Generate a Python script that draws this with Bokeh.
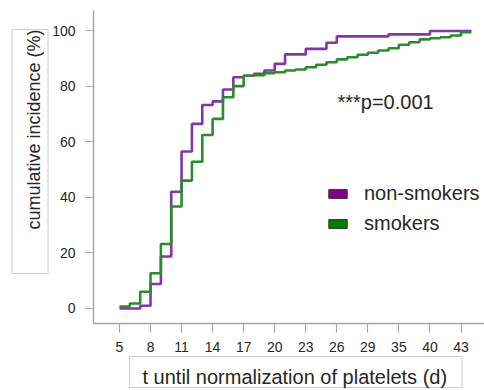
from bokeh.plotting import figure
from bokeh.models import Range1d, Label, Legend, LegendItem, FixedTicker, ColumnDataSource, Title
from bokeh.embed import file_html
from bokeh.resources import INLINE

# ---- data ----
days = list(range(5, 30)) + [30, 32, 35, 36, 38, 40, 41, 42, 43]
non_smokers = [0, 0, 1, 8.8, 18.7, 42, 56.5, 66.4, 73.2, 74.5, 78.8, 83.2, 83.7, 84.4,
               85.6, 88, 91.4, 91.4, 93.4, 93.4, 95.6, 97.9, 97.9, 97.9, 97.9,
               97.9, 98.6, 98.6, 98.6, 98.6, 99.8, 99.8, 99.8, 99.8]
smokers = [0.7, 1.8, 6, 12.7, 23.2, 36.7, 46, 52.8, 62.4, 68.2, 76, 80, 83.7, 83.9,
           84.6, 85, 85.6, 86.0, 86.8, 87.7, 88.6, 89.6, 90.4, 91.3, 92,
           92.8, 93.6, 94.9, 95.8, 96.8, 97.2, 97.6, 98.2, 99.4]
tick_days = [5, 8, 11, 14, 17, 20, 23, 26, 29, 35, 40, 43]
y_ticks = [0, 20, 40, 60, 80, 100]
series_names = ["non-smokers", "smokers"]
p_text = "***p=0.001"
x_title = "t until normalization of platelets (d)"
y_title = "cumulative incidence (%)"

PURPLE_LINE = "#8535a5"
GREEN_LINE = "#2a8c2a"
PURPLE_FILL = "#800090"
GREEN_FILL = "#008000"
FONT = "Liberation Sans"
TXT = "#262626"
NBSP = "\u00a0"

positions = list(range(len(days))) + [len(days)]
ns_vals = non_smokers + [non_smokers[-1]]
sm_vals = smokers + [smokers[-1]]

p = figure(width=484, height=390,
           x_range=Range1d(-2.51, 35.27), y_range=Range1d(-5.4, 107.2),
           output_backend="svg", toolbar_location=None,
           min_border_left=93, min_border_right=0, min_border_top=10, min_border_bottom=67)
p.outline_line_color = None
p.xgrid.visible = False
p.ygrid.visible = False
p.background_fill_color = "white"
p.border_fill_color = "white"

p.step(positions, ns_vals, mode="after", line_color=PURPLE_LINE, line_width=2.6)
p.step(positions, sm_vals, mode="after", line_color=GREEN_LINE, line_width=2.6)

# axes
for ax in (p.xaxis[0], p.yaxis[0]):
    ax.axis_line_color = "#a6a6a6"
    ax.axis_line_width = 1.5
    ax.major_tick_line_color = "#a6a6a6"
    ax.major_tick_line_width = 1.2
    ax.minor_tick_line_color = None
    ax.major_tick_in = 0
    ax.major_label_text_font = FONT
    ax.major_label_text_font_size = "14px"
    ax.major_label_text_color = TXT

p.xaxis.ticker = FixedTicker(ticks=[days.index(d) for d in tick_days])
p.xaxis.major_label_overrides = {days.index(d): str(d) for d in tick_days}
p.xaxis.major_tick_out = 9
p.xaxis.major_label_standoff = 9
p.yaxis.ticker = FixedTicker(ticks=y_ticks)
p.yaxis.major_tick_out = 8
p.yaxis.major_label_standoff = 10

# legend (swatch-only renderers with no visible data)
nan = float("nan")
src1 = ColumnDataSource(dict(l=[nan], r=[nan], t=[nan], b=[nan]))
src2 = ColumnDataSource(dict(l=[nan], r=[nan], t=[nan], b=[nan]))
r1 = p.quad(left="l", right="r", top="t", bottom="b", source=src1,
            fill_color=PURPLE_FILL, line_color="#303030", line_width=1)
r2 = p.quad(left="l", right="r", top="t", bottom="b", source=src2,
            fill_color=GREEN_FILL, line_color="#303030", line_width=1)
legend = Legend(items=[LegendItem(label=series_names[0], renderers=[r1]),
                       LegendItem(label=series_names[1], renderers=[r2])],
                location=(233, 88), glyph_width=23, glyph_height=11,
                label_standoff=15, padding=0, margin=0, spacing=7,
                border_line_color=None, background_fill_alpha=0,
                label_text_font=FONT, label_text_font_size="20px",
                label_text_color=TXT, label_height=20)
p.add_layout(legend)

# p-value annotation
p.add_layout(Label(x=21.06, y=74.2, text=p_text, text_align="left", text_baseline="middle",
                   text_font=FONT, text_font_size="20px", text_color=TXT))

# axis titles in boxes, as side-panel titles
p.add_layout(Title(text=NBSP * 8 + y_title, align="left", offset=50, standoff=3,
                   text_font=FONT, text_font_size="18px", text_font_style="normal",
                   text_color=TXT,
                   border_line_color="#cccccc", border_line_width=1,
                   background_fill_color="white",
                   padding=dict(left=4, right=0, top=12, bottom=4)), "left")
p.add_layout(Title(text=x_title, align="left", offset=36, standoff=0,
                   text_font=FONT, text_font_size="20px", text_font_style="normal",
                   text_color=TXT,
                   border_line_color="#cccccc", border_line_width=1,
                   background_fill_color="white",
                   padding=dict(left=13, right=15, top=9, bottom=0)), "below")

open("out.html", "w").write(file_html(p, INLINE))
